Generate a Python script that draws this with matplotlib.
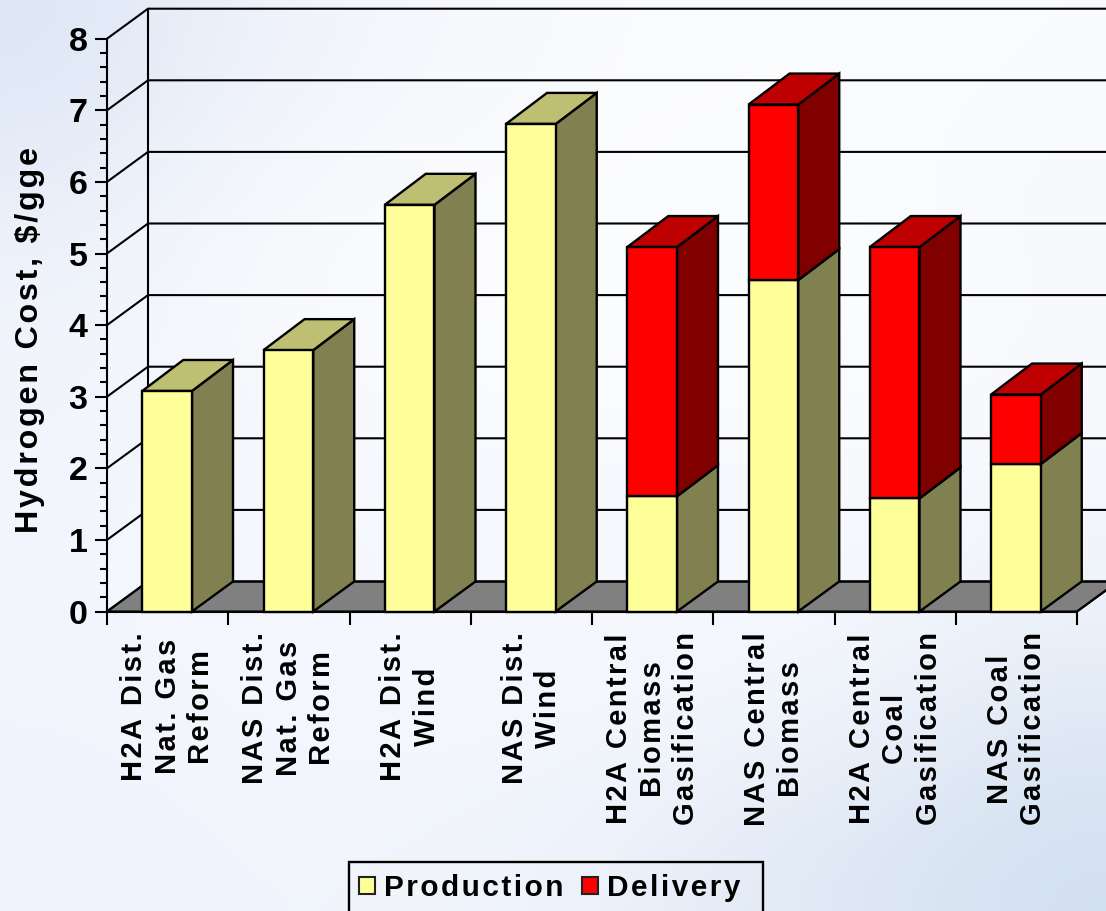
import matplotlib
matplotlib.use('Agg')
import matplotlib.pyplot as plt
import numpy as np
from matplotlib.colors import to_rgb
from matplotlib.patches import Patch, Polygon, Rectangle
from matplotlib.ticker import MultipleLocator

plt.rcParams['font.family'] = ['Liberation Sans', 'DejaVu Sans']
plt.rcParams['font.weight'] = 'bold'

categories = ['H2A Dist.\nNat. Gas\nReform', 'NAS Dist.\nNat. Gas\nReform', 'H2A Dist.\nWind',
              'NAS Dist.\nWind', 'H2A Central\nBiomass\nGasification', 'NAS Central\nBiomass',
              'H2A Central\nCoal\nGasification', 'NAS Coal\nGasification']
production = [3.08, 3.65, 5.68, 6.81, 1.61, 4.63, 1.58, 2.06]
delivery = [0, 0, 0, 0, 3.48, 2.45, 3.51, 0.97]

# sky picture behind the chart, rough colours only
sky = [['#dfe7f6', '#edf1fa', '#f5f7fc', '#f9fafd', '#fbfcfe', '#fbfcfe', '#f9fbfe'],
       ['#e9eff9', '#f5f7fc', '#fafbfe', '#fcfcfe', '#fcfdfe', '#fbfcfe', '#f7f9fd'],
       ['#f1f4fb', '#f7f9fd', '#fbfcfe', '#fcfdfe', '#fcfdfe', '#fcfdfe', '#f9fafd'],
       ['#f2f5fc', '#f5f7fd', '#f8f9fe', '#f9faff', '#f9faff', '#f8fafe', '#f6f8fd'],
       ['#f3f6fd', '#f4f7fd', '#f5f8fe', '#f6f8fe', '#f6f8fe', '#f5f8fd', '#f0f4fb'],
       ['#f2f5fd', '#f3f6fd', '#f4f7fd', '#f4f7fd', '#f3f6fc', '#eef3fa', '#e0e9f5'],
       ['#f1f4fc', '#f2f5fc', '#f2f5fc', '#eff3fb', '#e6edf8', '#dde7f4', '#d4e1f1']]

# depth of the fake 3d box, in axis units
dx = 41 / 121.25
dy = 30 / 71.6
top_dy = 31 / 71.6
bar_w = 0.41


def spaced(s):
    # the original text is letter spaced
    return '\n'.join('\u200a'.join(line) for line in s.split('\n'))


def draw_bar(ax, x0, y0, y1, front, side, top):
    x1 = x0 + bar_w
    base = dy if y0 == 0 else top_dy
    edge = dict(edgecolor='black', linewidth=1.7, joinstyle='miter', clip_on=False, zorder=3)
    ax.add_patch(Polygon([(x1, y0), (x1 + dx, y0 + base), (x1 + dx, y1 + top_dy), (x1, y1)], facecolor=side, **edge))
    ax.add_patch(Polygon([(x0, y1), (x1, y1), (x1 + dx, y1 + top_dy), (x0 + dx, y1 + top_dy)], facecolor=top, **edge))
    ax.add_patch(Polygon([(x0, y0), (x1, y0), (x1, y1), (x0, y1)], facecolor=front, **edge))


fig = plt.figure(figsize=(11.06, 9.11), dpi=100)

bg = fig.add_axes([0, 0, 1, 1], zorder=-1)
bg.imshow([[to_rgb(c) for c in row] for row in sky], aspect='auto', interpolation='bicubic')
bg.axis('off')

ax = fig.add_axes([107 / 1106, 1 - 611.5 / 911, 970 / 1106, 572.8 / 911])
ax.patch.set_alpha(0)
ax.set_xlim(0, 8)
ax.set_ylim(0, 8)

# walls and floor
ax.add_patch(Polygon([(0, 0), (8, 0), (8 + dx, dy), (dx, dy)], facecolor='#808080', edgecolor='black',
                     linewidth=1.5, clip_on=False, zorder=1))
for v in range(0, 9):
    ax.plot([0, dx, 8 + dx], [v, v + dy, v + dy], color='black', lw=1.5, clip_on=False, zorder=2)
ax.plot([dx, dx], [dy, 8 + dy], color='black', lw=1.5, clip_on=False, zorder=2)
ax.plot([8, 8 + dx], [0, dy], color='black', lw=1.5, clip_on=False, zorder=2)

for i in range(len(categories)):
    x0 = i + 0.5 - bar_w / 2 - 0.004
    draw_bar(ax, x0, 0, production[i], '#ffff99', '#808050', '#bfbf73')
    if delivery[i] > 0:
        draw_bar(ax, x0, production[i], production[i] + delivery[i], '#ff0000', '#800000', '#bf0000')

ax.spines['top'].set_visible(False)
ax.spines['right'].set_visible(False)
ax.spines['left'].set_linewidth(1.5)
ax.spines['bottom'].set_linewidth(1.5)
ax.spines['left'].set_zorder(4)
ax.spines['bottom'].set_zorder(4)

ax.yaxis.set_major_locator(MultipleLocator(1))
ax.yaxis.set_minor_locator(MultipleLocator(0.2))
ax.tick_params(axis='y', which='major', length=9, width=1.5, labelsize=24.5, pad=5)
ax.tick_params(axis='y', which='minor', length=5, width=1.5)

ax.set_xticks(np.arange(0, 9))
ax.set_xticklabels([])
ax.set_xticks(np.arange(len(categories)) + 0.5, minor=True)
ax.set_xticklabels([spaced(c) for c in categories], minor=True, rotation=90, fontsize=21,
                   ha='center', va='top', multialignment='center', linespacing=1.25)
ax.tick_params(axis='x', which='major', length=9, width=1.5)
ax.tick_params(axis='x', which='minor', length=0, pad=15)

fig.text(30 / 1106, 1 - 340 / 911, spaced('Hydrogen Cost, $/gge'), rotation=90, fontsize=23.2,
         ha='center', va='center', parse_math=False)

# legend frame runs off the bottom of the picture
fig.add_artist(Rectangle((349 / 1106, -5 / 911), 414 / 1106, 54 / 911, transform=fig.transFigure,
                         facecolor='none', edgecolor='black', linewidth=1.7))
handles = [Patch(facecolor='#ffff99', edgecolor='#222222', linewidth=1.5, label=spaced('Production')),
           Patch(facecolor='#ff0000', edgecolor='#222222', linewidth=1.5, label=spaced('Delivery'))]
leg = fig.legend(handles=handles, loc='upper left', bbox_to_anchor=(359 / 1106, 1 - 874 / 911), ncol=2,
                 fontsize=21.4, frameon=False, handlelength=0.55, handleheight=0.55, handletextpad=0.3,
                 columnspacing=0.6, borderaxespad=0, borderpad=0)

fig.savefig('out.png', dpi=100)
